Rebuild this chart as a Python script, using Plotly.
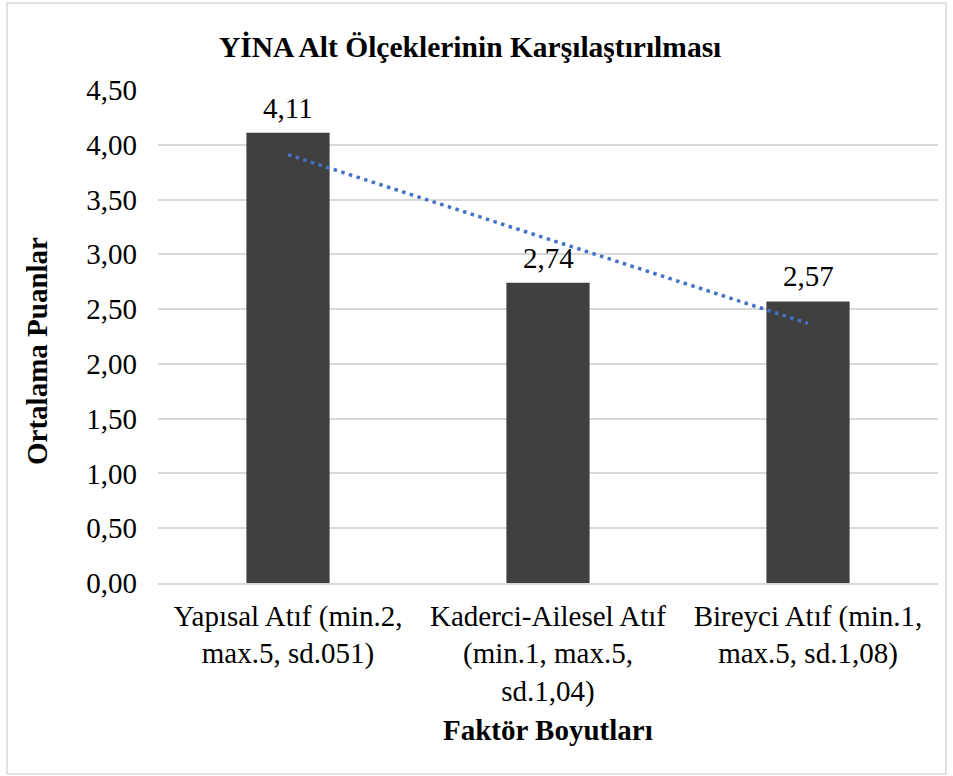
import numpy as np
import plotly.graph_objects as go

categories = [
    "Yapısal Atıf (min.2,<br>max.5, sd.051)",
    "Kaderci-Ailesel Atıf<br>(min.1, max.5,<br>sd.1,04)",
    "Bireyci Atıf (min.1,<br>max.5, sd.1,08)",
]
values = [4.11, 2.74, 2.57]
y_ticks = [0, 0.5, 1, 1.5, 2, 2.5, 3, 3.5, 4, 4.5]
y_tick_labels = ["0,00", "0,50", "1,00", "1,50", "2,00", "2,50", "3,00", "3,50", "4,00", "4,50"]
title_text = "YİNA Alt Ölçeklerinin Karşılaştırılması"
x_title = "Faktör Boyutları"
y_title = "Ortalama Puanlar"

FONT = "Liberation Serif"
FS = 29

xs = list(range(len(values)))
# linear trendline (least squares, as in Excel)
slope, intercept = np.polyfit(np.array(xs, dtype=float) + 1, np.array(values), 1)
trend_x = [xs[0], xs[-1]]
trend_y = [slope * (x + 1) + intercept for x in trend_x]

fig = go.Figure()
fig.add_trace(go.Bar(
    x=xs, y=values, width=0.32,
    marker=dict(color="#404040", line=dict(width=0)),
    hoverinfo="skip",
))
fig.add_trace(go.Scatter(
    x=trend_x, y=trend_y, mode="lines",
    line=dict(color="#4472C4", width=3.5, dash="3.5px,4.5px"),
    hoverinfo="skip",
))

annotations = []
for x, v in zip(xs, values):
    annotations.append(dict(
        x=x, y=v, xref="x", yref="y", text=f"{v:.2f}".replace(".", ","),
        showarrow=False, yanchor="bottom", yshift=7,
        font=dict(family=FONT, size=FS, color="#000000"),
    ))

W, H = 953, 776
L, R, T, B = 158, 15, 90, 193
pw, ph = W - L - R, H - T - B

def px(x):
    return (x - L) / pw

def py(y):
    return (H - B - y) / ph

annotations.append(dict(
    x=px(470), y=py(47), xref="paper", yref="paper", text=f"<b>{title_text}</b>",
    showarrow=False, xanchor="center", yanchor="middle",
    font=dict(family=FONT, size=29.5, color="#000000"),
))
annotations.append(dict(
    x=px(37), y=py(351), xref="paper", yref="paper", text=f"<b>{y_title}</b>",
    showarrow=False, xanchor="center", yanchor="middle", textangle=-90,
    font=dict(family=FONT, size=FS, color="#000000"),
))
annotations.append(dict(
    x=px(548), y=py(730), xref="paper", yref="paper", text=f"<b>{x_title}</b>",
    showarrow=False, xanchor="center", yanchor="middle",
    font=dict(family=FONT, size=FS, color="#000000"),
))

fig.update_layout(
    width=W, height=H,
    margin=dict(l=L, r=R, t=T, b=B, autoexpand=False),
    paper_bgcolor="white", plot_bgcolor="white",
    showlegend=False,
    font=dict(family=FONT, size=FS, color="#000000"),
    annotations=annotations,
    shapes=[dict(
        type="rect", xref="paper", yref="paper",
        x0=px(7), x1=px(946), y0=py(774), y1=py(3),
        line=dict(color="#d9d9d9", width=1.5), fillcolor="rgba(0,0,0,0)",
        layer="below",
    )],
)
fig.update_xaxes(
    range=[-0.5, 2.5], tickmode="array", tickvals=xs, ticktext=categories,
    showgrid=False, zeroline=False, showline=True, linecolor="#d9d9d9", linewidth=1.5,
    ticks="", ticklabelstandoff=6,
    tickfont=dict(family=FONT, size=FS, color="#000000"),
)
fig.update_yaxes(
    range=[0, 4.5], tickmode="array", tickvals=y_ticks, ticktext=y_tick_labels,
    showgrid=True, gridcolor="#d9d9d9", gridwidth=1.5, zeroline=False, showline=False,
    ticks="", ticklabelstandoff=20,
    tickfont=dict(family=FONT, size=FS, color="#000000"),
)

fig.write_html(
    "out.html",
    config={"displayModeBar": False},
    post_script="document.body.style.margin='0';",
)
